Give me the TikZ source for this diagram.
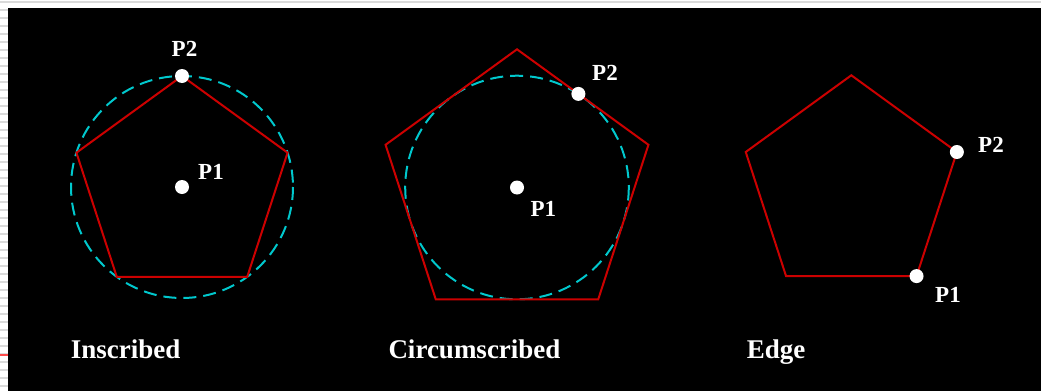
\documentclass[tikz,border=0pt]{standalone}
\usepackage{fontspec}
\setmainfont{Liberation Serif}
\usetikzlibrary{calc}
\definecolor{polyred}{RGB}{204,0,0}
\definecolor{circcyan}{RGB}{0,200,205}
\definecolor{stripegray}{RGB}{218,218,218}
\begin{document}
\begin{tikzpicture}[x=1pt,y=-1pt,
  poly/.style={draw=polyred,line width=2pt,line join=miter},
  dashcirc/.style={draw=circcyan,line width=2pt,dash pattern=on 13pt off 7pt},
  dot/.style={circle,fill=white,draw=none,inner sep=0pt,minimum size=14pt},
  plabel/.style={text=white,font=\fontsize{23}{23}\selectfont\bfseries,inner sep=0pt},
  title/.style={text=white,font=\fontsize{27}{27}\selectfont\bfseries,inner sep=0pt,anchor=base west}]
% background
\fill[white] (0,0) rectangle (1041,391);
\useasboundingbox (0,0) rectangle (1041,391);
\draw[stripegray,line width=1.7pt] (0,1.8) -- (1041,1.8);
\foreach \k in {1,...,48} {\draw[stripegray,line width=1.7pt] (0,{1.8+8*\k}) -- (8,{1.8+8*\k});}
\draw[red!70!white,line width=1.8pt] (0,355.3) -- (8,355.3);
\fill[black] (8,8) rectangle (1041,391);

% ---------- Inscribed ----------
\coordinate (c1) at (182,187);
\foreach \i/\a in {1/-90,2/-18,3/54,4/126,5/198} {\path (c1) ++(\a:111) coordinate (a\i);}
\draw[dashcirc] (c1) circle (111);
\draw[poly] (a1) -- (a2) -- (a3) -- (a4) -- (a5) -- cycle;
\node[dot] (p1a) at (c1) {};
\node[dot] (p2a) at (a1) {};
\node[plabel] (l1a) at (211,171.5) {P1};
\node[plabel] (l2a) at (184.5,48.5) {P2};
\node[title] (ta) at (70.7,358.3) {Inscribed};

% ---------- Circumscribed ----------
\coordinate (c2) at (517,187.5);
\foreach \i/\a in {1/-90,2/-18,3/54,4/126,5/198} {\path (c2) ++(\a:138.2) coordinate (b\i);}
\draw[dashcirc] (c2) circle (111.8);
\draw[poly] (b1) -- (b2) -- (b3) -- (b4) -- (b5) -- cycle;
\node[dot] (p1b) at (c2) {};
\node[dot] (p2b) at ($(b1)!0.467!(b2)$) {};
\node[plabel] (l1b) at (543.3,209) {P1};
\node[plabel] (l2b) at (605,72.5) {P2};
\node[title] (tb) at (388.3,358.3) {Circumscribed};

% ---------- Edge ----------
\coordinate (c3) at (851.3,186.3);
\foreach \i/\a in {1/-90,2/-18,3/54,4/126,5/198} {\path (c3) ++(\a:111) coordinate (e\i);}
\draw[poly] (e1) -- (e2) -- (e3) -- (e4) -- (e5) -- cycle;
\node[dot] (p1c) at (e3) {};
\node[dot] (p2c) at (e2) {};
\node[plabel] (l1c) at (948,295) {P1};
\node[plabel] (l2c) at (991,144.7) {P2};
\node[title] (tc) at (746.7,358.3) {Edge};
\end{tikzpicture}
\end{document}
